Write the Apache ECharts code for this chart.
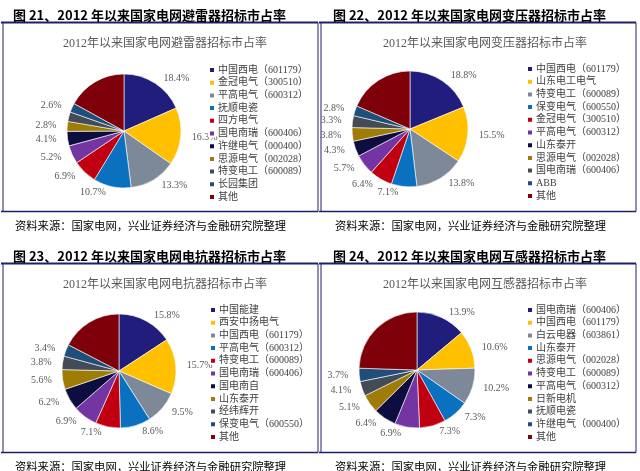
<!DOCTYPE html>
<html>
<head>
<meta charset="utf-8">
<script src="https://cdn.jsdelivr.net/npm/echarts@6/dist/echarts.min.js"></script>
<style>
  html, body { margin: 0; padding: 0; background: #fff; }
  #main { width: 640px; height: 471px; }
</style>
</head>
<body>
<div id="main"></div>
<script>
// 图21 避雷器
const names21 = ['中国西电（601179）', '金冠电气（300510）', '平高电气（600312）', '抚顺电瓷', '四方电气', '国电南瑞（600406）', '许继电气（000400）', '思源电气（002028）', '特变电工（600089）', '长园集团', '其他'];
const values21 = [18.4, 16.3, 13.3, 10.7, 6.9, 5.2, 4.1, 2.8, 2.7, 2.6, 17.0];
// 图22 变压器
const names22 = ['中国西电（601179）', '山东电工电气', '特变电工（600089）', '保变电气（600550）', '金冠电气（300510）', '平高电气（600312）', '山东泰开', '思源电气（002028）', '国电南瑞（600406）', 'ABB', '其他'];
const values22 = [18.8, 15.5, 13.8, 7.1, 6.4, 5.7, 4.3, 3.8, 3.3, 2.8, 18.5];
// 图23 电抗器
const names23 = ['中国能建', '西安中扬电气', '中国西电（601179）', '平高电气（600312）', '特变电工（600089）', '国电南瑞（600406）', '国电南自', '山东泰开', '经纬辉开', '保变电气（600550）', '其他'];
const values23 = [15.8, 15.7, 9.5, 8.6, 7.1, 6.9, 6.2, 5.6, 3.8, 3.4, 17.4];
// 图24 互感器
const names24 = ['国电南瑞（600406）', '中国西电（601179）', '白云电器（603861）', '山东泰开', '思源电气（002028）', '特变电工（600089）', '平高电气（600312）', '日新电机', '抚顺电瓷', '许继电气（000400）', '其他'];
const values24 = [13.9, 10.6, 10.2, 7.3, 7.3, 6.9, 6.4, 5.1, 4.1, 3.7, 24.5];

const figTitles = ['图 21、2012 年以来国家电网避雷器招标市占率', '图 22、2012 年以来国家电网变压器招标市占率', '图 23、2012 年以来国家电网电抗器招标市占率', '图 24、2012 年以来国家电网互感器招标市占率'];
const innerTitles = ['2012年以来国家电网避雷器招标市占率', '2012年以来国家电网变压器招标市占率', '2012年以来国家电网电抗器招标市占率', '2012年以来国家电网互感器招标市占率'];
const sourceText = '资料来源：国家电网，兴业证券经济与金融研究院整理';

const palette = ['#201D7C', '#FFC000', '#7D8898', '#0A70C0', '#C00010', '#7235A2', '#0E0D40', '#9E7C06', '#434C56', '#1F4E7A', '#7E0008'];

const serif = '"Liberation Serif", "Noto Sans CJK SC", serif';
const cjk = '"Noto Sans CJK SC", sans-serif';

const panels = [
  { names: names21, values: values21, x0: 0, y0: 0, center: [124, 131], r: 57, legendX: 203, legendY: 60 },
  { names: names22, values: values22, x0: 320, y0: 0, center: [410, 129], r: 58, legendX: 521, legendY: 59 },
  { names: names23, values: values23, x0: 0, y0: 235, center: [119, 371], r: 57, legendX: 204, legendY: 300 },
  { names: names24, values: values24, x0: 320, y0: 235, center: [417, 370], r: 58, legendX: 521, legendY: 300 }
];

const title = [], legend = [], series = [], graphic = [];
panels.forEach((p, i) => {
  const top = p.y0 === 0 ? 0 : 241;
  title.push({
    text: figTitles[i], left: p.x0 + 8, top: top + 4,
    textStyle: { fontFamily: cjk, fontSize: 13, fontWeight: 'bold', color: '#000' }
  });
  title.push({
    text: innerTitles[i], left: p.x0 + 160, top: top + 33, textAlign: 'center',
    textStyle: { fontFamily: serif, fontSize: 12, fontWeight: 'normal', color: '#595959' }
  });
  title.push({
    text: sourceText, left: p.x0 + 10, top: top + 215,
    textStyle: { fontFamily: cjk, fontSize: 11.3, fontWeight: 'normal', color: '#000' }
  });
  // legend icons take colours from the series data below
  legend.push({
    orient: 'vertical', left: p.legendX, top: p.legendY,
    itemWidth: 6, itemHeight: 6, itemGap: 2.7, icon: 'rect',
    data: p.names.map((n, k) => ({ name: n, itemStyle: { color: palette[k] } })),
    textStyle: { fontFamily: serif, fontSize: 10, color: '#404040', padding: [0, 0, 0, -2] }
  });
  series.push({
    type: 'pie', center: p.center, radius: p.r, startAngle: 90,
    clockwise: true, avoidLabelOverlap: false,
    itemStyle: { borderColor: '#fff', borderWidth: 0.6 },
    label: {
      show: true, position: 'outside', fontFamily: serif, fontSize: 10, color: '#595959',
      formatter: params => params.name === '其他' ? '' : params.value.toFixed(1) + '%'
    },
    labelLine: { show: false, length: 6, length2: 0 },
    data: p.names.map((n, k) => ({ name: n, value: p.values[k], itemStyle: { color: palette[k] } }))
  });
  const yTop = top + 22.5, yBot = top + 211.5;
  const xL = p.x0 === 0 ? 3 : 321, xR = p.x0 === 0 ? 318 : 636;
  graphic.push({ type: 'line', shape: { x1: xL - 2, y1: yTop, x2: xR, y2: yTop }, style: { stroke: '#1F1F6E', lineWidth: 2 } });
  graphic.push({ type: 'line', shape: { x1: xL - 2, y1: yBot, x2: xR, y2: yBot }, style: { stroke: '#1F1F6E', lineWidth: 1.5 } });
  graphic.push({ type: 'line', shape: { x1: xL, y1: yTop, x2: xL, y2: yBot }, style: { stroke: '#1F1F6E', lineWidth: 1 } });
  graphic.push({ type: 'line', shape: { x1: xR, y1: yTop, x2: xR, y2: yBot }, style: { stroke: '#1F1F6E', lineWidth: 1 } });
});

const chart = echarts.init(document.getElementById('main'));
chart.setOption({
  animation: false,
  title: title,
  legend: legend,
  series: series,
  graphic: graphic
});
</script>
</body>
</html>
